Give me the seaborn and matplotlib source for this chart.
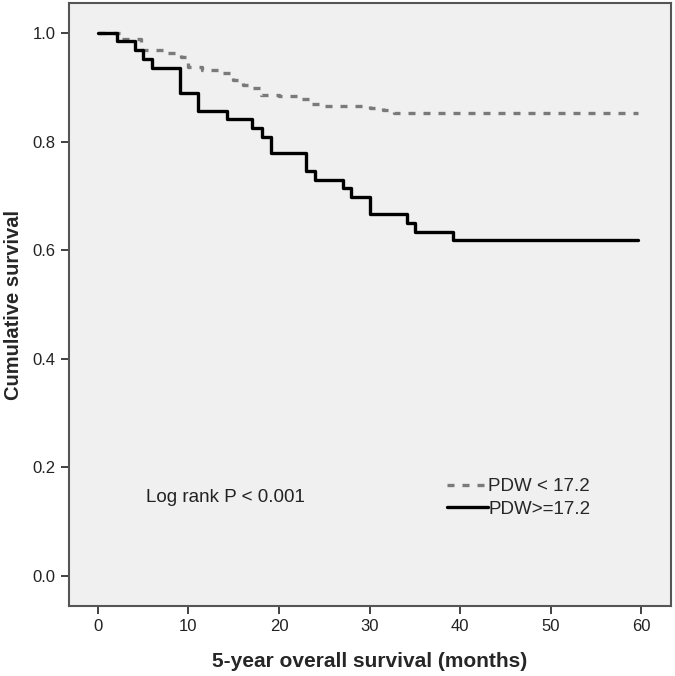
import matplotlib
matplotlib.use("Agg")
import matplotlib.pyplot as plt
import seaborn as sns
import pandas as pd

# Kaplan-Meier step values
low_months = [0, 2.6, 4.8, 7.5, 9.2, 9.9, 11.5, 13.5, 14.9, 16.0, 17.0, 18.0,
              20.0, 22.0, 23.5, 24.5, 30.0, 31.5, 32.7, 59.6]
low_surv = [1.0, 0.988, 0.969, 0.963, 0.956, 0.938, 0.932, 0.926, 0.913, 0.904,
            0.899, 0.886, 0.883, 0.878, 0.869, 0.865, 0.862, 0.858, 0.853, 0.853]

high_months = [0, 2.1, 4.1, 5.0, 6.0, 9.1, 11.0, 14.2, 17.0, 18.1, 19.1, 23.0,
               24.0, 27.1, 28.0, 30.0, 34.1, 35.0, 39.2, 59.7]
high_surv = [1.0, 0.985, 0.968, 0.952, 0.936, 0.889, 0.857, 0.842, 0.825, 0.809,
             0.778, 0.746, 0.730, 0.714, 0.698, 0.667, 0.650, 0.634, 0.619, 0.619]

groups = ["PDW < 17.2", "PDW>=17.2"]
x_ticks = [0, 10, 20, 30, 40, 50, 60]
y_ticks = [0.0, 0.2, 0.4, 0.6, 0.8, 1.0]

df = pd.concat([
    pd.DataFrame({"months": low_months, "survival": low_surv, "group": groups[0]}),
    pd.DataFrame({"months": high_months, "survival": high_surv, "group": groups[1]}),
])

sns.set_style("ticks")
plt.rcParams["font.family"] = ["Liberation Sans", "DejaVu Sans"]

fig = plt.figure(figsize=(6.75, 6.76), dpi=100)
fig.set_facecolor("#FFFFFF")
ax = fig.add_axes([69 / 675, 70 / 676, 602 / 675, 603 / 676])
ax.set_facecolor("#F0F0F0")

sns.lineplot(
    data=df, x="months", y="survival", hue="group", style="group",
    palette={groups[0]: "#7A7A7A", groups[1]: "#000000"},
    dashes={groups[0]: (2.1, 2.4), groups[1]: ""},
    drawstyle="steps-post", lw=2.4, estimator=None, sort=False, ax=ax,
)

ax.set_xlim(-3.2, 63.3)
ax.set_ylim(-0.055, 1.055)
ax.set_xticks(x_ticks)
ax.set_yticks(y_ticks)
ax.set_yticklabels(["{0:.1f}".format(y) for y in y_ticks])
ax.tick_params(axis="both", labelsize=12, length=6, width=1.3,
               color="#333333", labelcolor="#222222", direction="out")
for side in ["left", "bottom", "top", "right"]:
    ax.spines[side].set_color("#555555")
    ax.spines[side].set_linewidth(1.5)

ax.set_xlabel("5-year overall survival (months)", fontsize=15,
              fontweight="bold", labelpad=13)
ax.set_ylabel("Cumulative survival", fontsize=14.5, fontweight="bold")
ax.yaxis.set_label_coords(-0.077, 0.5)

ax.text(5.3, 0.145, "Log rank P < 0.001", fontsize=13.5,
        va="center", color="#222222")

handles, labels = ax.get_legend_handles_labels()
leg = ax.legend(handles, labels, frameon=False, loc="upper left",
                bbox_to_anchor=(0.6, 0.24), handlelength=2.2,
                handletextpad=0.0, labelspacing=0.3,
                prop={"size": 13.5})

fig.savefig("out.png", dpi=100)
